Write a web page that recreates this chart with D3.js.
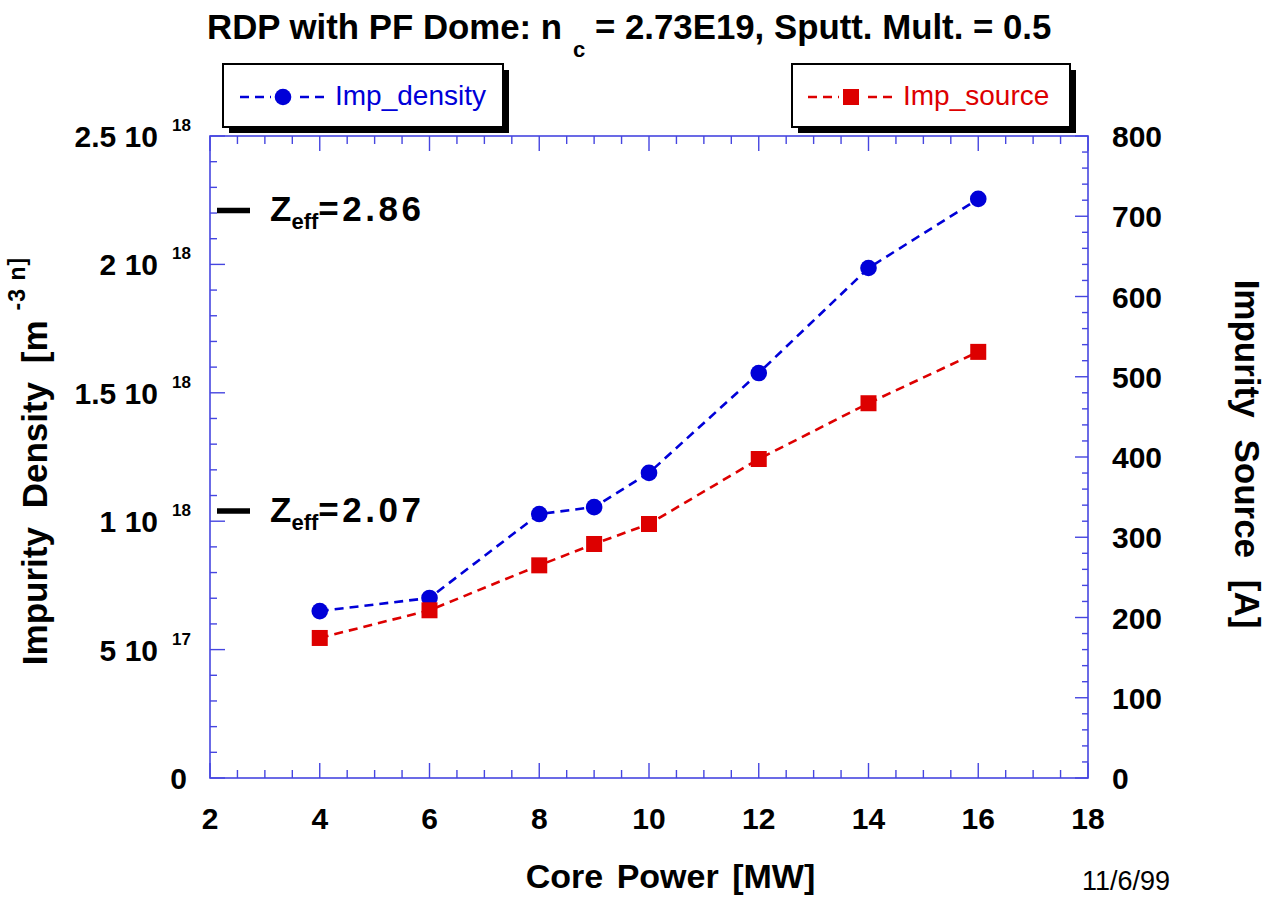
<!DOCTYPE html>
<html><head><meta charset="utf-8">
<script src="https://cdn.jsdelivr.net/npm/d3@7"></script>
<style>
body{margin:0;background:#fff;}
svg{display:block;font-family:"Liberation Sans",Arial,sans-serif;}
</style></head>
<body>
<svg id="chart" width="1268" height="897"></svg>
<script>
// ---- data ----
const corePower = [4, 6, 8, 9, 10, 12, 14, 16];
const impDensity = [0.650e18, 0.701e18, 1.028e18, 1.055e18, 1.188e18, 1.577e18, 1.986e18, 2.255e18];
const impSource = [174.5, 209, 265, 291.6, 316.5, 397.5, 467, 531];
const xTicks = [2, 4, 6, 8, 10, 12, 14, 16, 18];
const leftTicks = [0, 5e17, 1e18, 1.5e18, 2e18, 2.5e18];
const leftTickMant = ["0", "5 10", "1 10", "1.5 10", "2 10", "2.5 10"];
const leftTickExp = ["", "17", "18", "18", "18", "18"];
const rightTicks = [0, 100, 200, 300, 400, 500, 600, 700, 800];
const zeffLevels = [2.21e18, 1.04e18];
const zeffValues = ["2.86", "2.07"];
const seriesNames = ["Imp_density", "Imp_source"];

// ---- layout ----
const L = 210, R = 1088, T = 136, B = 778;
const axisColor = "#4646e0";
const blue = "#0000d8", red = "#dd0000";
const svg = d3.select("#chart");

const x = d3.scaleLinear().domain([2, 18]).range([L, R]);
const yL = d3.scaleLinear().domain([0, 2.5e18]).range([B, T]);
const yR = d3.scaleLinear().domain([0, 800]).range([B, T]);

// title
const title = svg.append("text").attr("x", 207).attr("y", 39)
  .attr("font-size", 34.8).attr("font-weight", "bold").attr("fill", "#000");
title.append("tspan").text("RDP with PF Dome: n");
title.append("tspan").attr("dx", 11).attr("dy", 18).attr("font-size", 22).text("c");
title.append("tspan").attr("dy", -18).text(" = 2.73E19, Sputt. Mult. = 0.5");

// axes frame
const g = svg.append("g");
g.append("rect").attr("x", L).attr("y", T).attr("width", R - L).attr("height", B - T)
  .attr("fill", "none").attr("stroke", axisColor).attr("stroke-width", 1.6);

// x ticks bottom & top (every 0.5)
const xMinor = d3.range(2, 18.001, 0.5);
xMinor.forEach(v => {
  const major = Math.abs(v % 2) < 1e-9;
  const len = major ? 15 : 8;
  g.append("line").attr("x1", x(v)).attr("x2", x(v)).attr("y1", B).attr("y2", B - len)
    .attr("stroke", axisColor).attr("stroke-width", 1.4);
  g.append("line").attr("x1", x(v)).attr("x2", x(v)).attr("y1", T).attr("y2", T + len)
    .attr("stroke", axisColor).attr("stroke-width", 1.4);
});
// left ticks every 1e17
d3.range(0, 25.001, 1).forEach(k => {
  const v = k * 1e17;
  const len = (k % 5 === 0) ? 15 : 7;
  g.append("line").attr("x1", L).attr("x2", L + len).attr("y1", yL(v)).attr("y2", yL(v))
    .attr("stroke", axisColor).attr("stroke-width", 1.4);
});
// right ticks every 20
d3.range(0, 800.001, 20).forEach(v => {
  const len = (v % 100 === 0) ? 13 : 6;
  g.append("line").attr("x1", R).attr("x2", R - len).attr("y1", yR(v)).attr("y2", yR(v))
    .attr("stroke", axisColor).attr("stroke-width", 1.4);
});

// bottom tick labels
svg.append("g").selectAll("text").data(xTicks).join("text")
  .attr("x", d => x(d)).attr("y", 829).attr("text-anchor", "middle")
  .attr("font-size", 30).attr("font-weight", "bold").text(d => d);

// left tick labels
leftTicks.forEach((v, i) => {
  const yy = yL(v) + 11;
  if (leftTickExp[i] === "") {
    svg.append("text").attr("x", 187).attr("y", yy).attr("text-anchor", "end")
      .attr("font-size", 30).attr("font-weight", "bold").text(leftTickMant[i]);
  } else {
    svg.append("text").attr("x", 158).attr("y", yy).attr("text-anchor", "end")
      .attr("font-size", 30).attr("font-weight", "bold").text(leftTickMant[i]);
    svg.append("text").attr("x", 172).attr("y", yy - 16).attr("text-anchor", "start")
      .attr("font-size", 17).attr("font-weight", "bold").text(leftTickExp[i]);
  }
});

// right tick labels
svg.append("g").selectAll("text").data(rightTicks).join("text")
  .attr("x", 1112).attr("y", d => yR(d) + 11).attr("text-anchor", "start")
  .attr("font-size", 30).attr("font-weight", "bold").text(d => d);

// axis titles
svg.append("text").attr("x", (527 + 814) / 2).attr("y", 888).attr("text-anchor", "middle")
  .attr("font-size", 34).attr("font-weight", "bold").attr("word-spacing", 4).text("Core Power [MW]");

const lt = svg.append("text").attr("transform", "translate(47,461) rotate(-90)")
  .attr("text-anchor", "middle").attr("font-size", 35).attr("font-weight", "bold");
lt.append("tspan").attr("word-spacing", 9).text("Impurity Density [m");
lt.append("tspan").attr("dx", 10).attr("dy", -22).attr("font-size", 23).attr("word-spacing", 0)
  .attr("letter-spacing", 1).text("-3 n]");

svg.append("text").attr("transform", "translate(1235,454) rotate(90)")
  .attr("text-anchor", "middle").attr("font-size", 35).attr("font-weight", "bold")
  .attr("word-spacing", 12).text("Impurity Source [A]");

// Zeff annotations
zeffLevels.forEach((v, i) => {
  const yy = yL(v);
  svg.append("line").attr("x1", 217).attr("x2", 250).attr("y1", yy).attr("y2", yy)
    .attr("stroke", "#000").attr("stroke-width", 5.5);
  const t = svg.append("text").attr("x", 270).attr("y", yy + 11)
    .attr("font-size", 35).attr("font-weight", "bold");
  t.append("tspan").text("Z");
  t.append("tspan").attr("dy", 8).attr("font-size", 22).text("eff");
  t.append("tspan").attr("dy", -8).attr("letter-spacing", 3.5).text("=" + zeffValues[i]);
});

// series lines
const lineD = d3.line().x(d => x(d[0])).y(d => yL(d[1]));
const lineS = d3.line().x(d => x(d[0])).y(d => yR(d[1]));
const densPts = corePower.map((c, i) => [c, impDensity[i]]);
const srcPts = corePower.map((c, i) => [c, impSource[i]]);

svg.append("path").attr("d", lineS(srcPts)).attr("fill", "none").attr("stroke", red)
  .attr("stroke-width", 2.6).attr("stroke-dasharray", "9,6");
svg.append("path").attr("d", lineD(densPts)).attr("fill", "none").attr("stroke", blue)
  .attr("stroke-width", 2.6).attr("stroke-dasharray", "9,6");

svg.append("g").selectAll("circle").data(densPts).join("circle")
  .attr("cx", d => x(d[0])).attr("cy", d => yL(d[1])).attr("r", 8.3).attr("fill", blue);
svg.append("g").selectAll("rect").data(srcPts).join("rect")
  .attr("x", d => x(d[0]) - 8).attr("y", d => yR(d[1]) - 8)
  .attr("width", 16).attr("height", 16).attr("fill", red);

// legends
function legendBox(bx, by, bw, bh, color, marker, name, lx1, lx2, mx, tx) {
  svg.append("rect").attr("x", bx + 6).attr("y", by + 6).attr("width", bw).attr("height", bh).attr("fill", "#000");
  svg.append("rect").attr("x", bx).attr("y", by).attr("width", bw).attr("height", bh)
    .attr("fill", "#fff").attr("stroke", "#000").attr("stroke-width", 2);
  const cy = by + 33;
  svg.append("line").attr("x1", lx1).attr("x2", lx2).attr("y1", cy).attr("y2", cy)
    .attr("stroke", color).attr("stroke-width", 2.6).attr("stroke-dasharray", "9,6");
  svg.append("rect").attr("x", mx - 12).attr("y", cy - 10).attr("width", 24).attr("height", 20).attr("fill", "#fff");
  if (marker === "circle") {
    svg.append("circle").attr("cx", mx).attr("cy", cy).attr("r", 8.3).attr("fill", color);
  } else {
    svg.append("rect").attr("x", mx - 8).attr("y", cy - 8).attr("width", 16).attr("height", 16).attr("fill", color);
  }
  svg.append("text").attr("x", tx).attr("y", by + 41).attr("font-size", 28).attr("fill", color).text(name);
}
legendBox(223, 64, 280, 63, blue, "circle", seriesNames[0], 240, 326, 283, 335);
legendBox(792, 64, 278, 63, red, "square", seriesNames[1], 808, 893, 851, 903);

// date
svg.append("text").attr("x", 1082).attr("y", 890).attr("font-size", 27).text("11/6/99");
</script>
</body></html>
